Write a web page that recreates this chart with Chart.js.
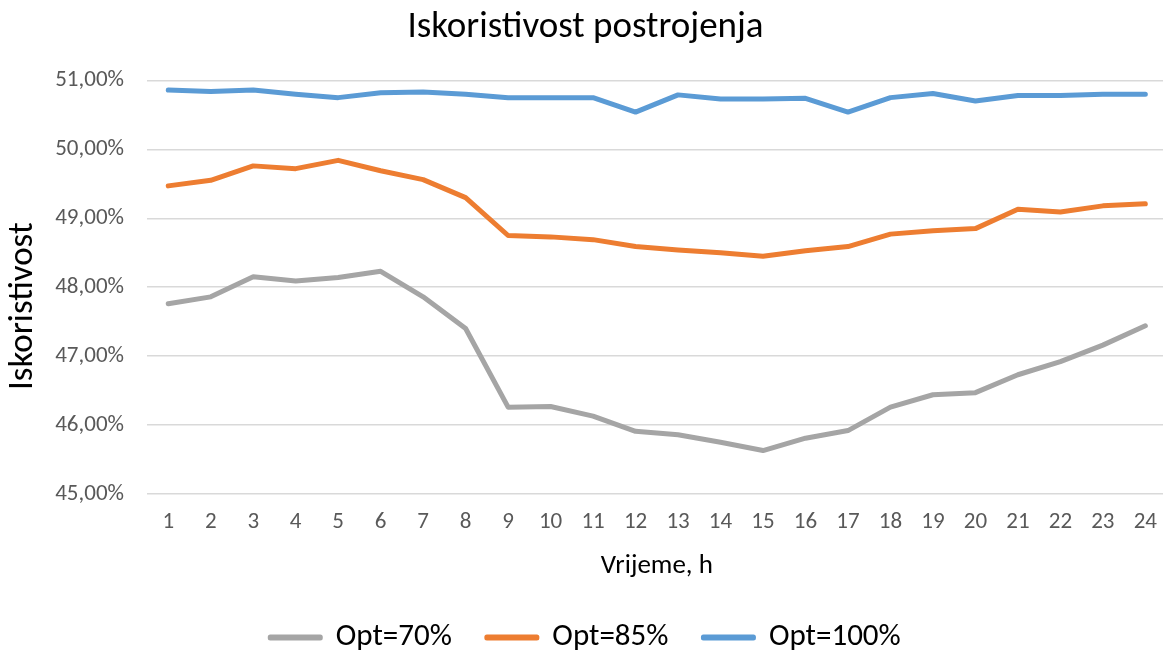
<!DOCTYPE html>
<html>
<head>
<meta charset="utf-8">
<title>Iskoristivost postrojenja</title>
<script src="https://cdn.jsdelivr.net/npm/chart.js@4.4.1/dist/chart.umd.min.js"></script>
<style>
    html, body { margin: 0; padding: 0; background: #fff; overflow: hidden; }
    #wrap { position: relative; width: 1171px; height: 663px; }
</style>
</head>
<body>
<div id="wrap"><canvas id="line-chart"></canvas></div>
<script>
// hours of the day
const hours = ['1','2','3','4','5','6','7','8','9','10','11','12',
               '13','14','15','16','17','18','19','20','21','22','23','24'];

// efficiency in %
const opt70 = [47.76, 47.86, 48.15, 48.09, 48.14, 48.23, 47.86, 47.40, 46.26, 46.27, 46.13, 45.91,
               45.86, 45.75, 45.63, 45.81, 45.92, 46.26, 46.44, 46.47, 46.73, 46.92, 47.16, 47.44];
const opt85 = [49.47, 49.55, 49.76, 49.72, 49.84, 49.69, 49.56, 49.30, 48.75, 48.73, 48.69, 48.59,
               48.54, 48.50, 48.45, 48.53, 48.59, 48.77, 48.82, 48.85, 49.13, 49.09, 49.18, 49.21];
const opt100 = [50.86, 50.84, 50.86, 50.80, 50.75, 50.82, 50.83, 50.80, 50.75, 50.75, 50.75, 50.54,
                50.79, 50.73, 50.73, 50.74, 50.54, 50.75, 50.81, 50.70, 50.78, 50.78, 50.80, 50.80];

const seriesNames = ['Opt=70%', 'Opt=85%', 'Opt=100%'];
const yMin = 45, yMax = 51, yStep = 1;
const yTitleText = 'Iskoristivost';

const FONT = "Carlito, Calibri, Lato, sans-serif";
const TEXT = '#595959';
const GRID = '#d9d9d9';

function lineSet(label, data, color) {
    return {
        label: label,
        data: data,
        borderColor: color,
        backgroundColor: color,
        borderWidth: 5,
        pointRadius: 0,
        pointHoverRadius: 0,
        tension: 0,
        borderCapStyle: 'round',
        borderJoinStyle: 'round',
        fill: false
    };
}

// y axis title, placed a bit below the middle like in the original
const yTitlePlugin = {
    id: 'yTitle',
    afterDraw(chart) {
        const c = chart.ctx;
        const area = chart.chartArea;
        c.save();
        c.translate(23, (area.top + area.bottom) / 2 + 19);
        c.rotate(-Math.PI / 2);
        c.font = '35px ' + FONT;
        c.fillStyle = '#000';
        c.textAlign = 'center';
        c.textBaseline = 'middle';
        c.fillText(yTitleText, 0, 0);
        c.restore();
    }
};

document.addEventListener('DOMContentLoaded', () => {
    const ctx = document.getElementById('line-chart').getContext('2d');
    new Chart(ctx, {
        type: 'line',
        data: {
            labels: hours,
            datasets: [
                lineSet(seriesNames[0], opt70, '#a5a5a5'),
                lineSet(seriesNames[1], opt85, '#ed7d31'),
                lineSet(seriesNames[2], opt100, '#5b9bd5')
            ]
        },
        plugins: [yTitlePlugin],
        options: {
            responsive: true,
            maintainAspectRatio: false,
            animation: false,
            layout: { padding: 0 },
            plugins: {
                title: {
                    display: true,
                    text: 'Iskoristivost postrojenja',
                    color: '#000',
                    font: { size: 37, family: FONT, weight: 'normal' },
                    padding: { top: 6, bottom: 30 }
                },
                legend: {
                    display: true,
                    position: 'bottom',
                    labels: {
                        color: '#000',
                        font: { size: 31, family: FONT },
                        boxWidth: 50,
                        boxHeight: 1,
                        padding: 35
                    }
                },
                tooltip: { enabled: false }
            },
            scales: {
                x: {
                    offset: true,
                    grid: { display: false, drawTicks: false },
                    border: { display: false },
                    ticks: {
                        color: TEXT,
                        padding: 14,
                        maxRotation: 0,
                        autoSkip: false,
                        font: { size: 23, family: FONT }
                    },
                    title: {
                        display: true,
                        text: 'Vrijeme, h',
                        color: '#000',
                        font: { size: 27, family: FONT },
                        padding: { top: 0, bottom: 5 }
                    }
                },
                y: {
                    min: yMin,
                    max: yMax,
                    grid: { color: GRID, lineWidth: 1.5, drawTicks: false },
                    border: { display: false },
                    ticks: {
                        stepSize: yStep,
                        color: TEXT,
                        padding: 23,
                        font: { size: 23, family: FONT },
                        callback: function(value) {
                            return value.toFixed(2).replace('.', ',') + '%';
                        }
                    },
                    afterFit: function(scale) {
                        scale.width = 147;
                    }
                }
            }
        }
    });
});
</script>
</body>
</html>
